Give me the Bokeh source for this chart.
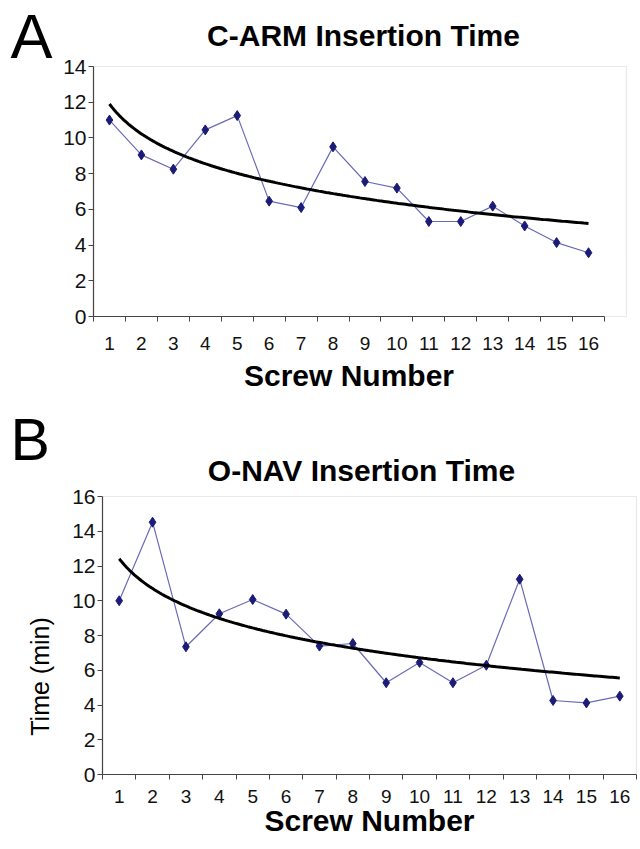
import numpy as np
from bokeh.plotting import figure
from bokeh.models import Range1d, FixedTicker, BoxAnnotation
from bokeh.core.properties import value
from bokeh.layouts import column
from bokeh.embed import file_html
from bokeh.resources import INLINE

# ---- data ----
screws = list(range(1, 17))
x_tick_labels = [str(s) for s in screws]
carm_times = [11.0, 9.05, 8.25, 10.45, 11.25, 6.46, 6.1, 9.5,
              7.56, 7.19, 5.32, 5.32, 6.18, 5.07, 4.14, 3.57]
onav_times = [10.0, 14.52, 7.35, 9.25, 10.07, 9.23, 7.39, 7.54,
              5.28, 6.45, 5.28, 6.29, 11.24, 4.26, 4.12, 4.51]
carm_yticks = [0, 2, 4, 6, 8, 10, 12, 14]
onav_yticks = [0, 2, 4, 6, 8, 10, 12, 14, 16]
panel_letters = ["A", "B"]
chart_titles = ["C-ARM Insertion Time", "O-NAV Insertion Time"]
x_title = "Screw Number"
y_title = "Time (min)"

FONT = "Liberation Sans"
LINE_COLOR = "#6a6ab8"
MARK_COLOR = "#1b1b78"
W = 640


def log_trend(xs, ys):
    lx = np.log(np.asarray(xs, dtype=float))
    b, a = np.polyfit(lx, np.asarray(ys, dtype=float), 1)
    xx = np.linspace(xs[0], xs[-1], 200)
    return xx, a + b * np.log(xx)


def make_panel(times, yticks, letter, title, height, box, cat_end_px,
               letter_pos, letter_size, title_pos, tick_standoff, label_standoff,
               ylabel_pos=None):
    # box = plot-area pixels inside this canvas: left, top, right, bottom
    fl, ft, fr, fb = box
    n = len(screws)
    kx = (cat_end_px - fl) / n
    x0 = 0.5 - fl / kx
    x1 = x0 + W / kx
    ymax = yticks[-1]
    ky = (fb - ft) / ymax
    y1 = ymax + ft / ky
    y0 = -(height - fb) / ky

    def px2x(px):
        return x0 + px / kx

    def px2y(py):
        return y1 - py / ky

    p = figure(width=W, height=height, output_backend="svg",
               toolbar_location=None,
               x_range=Range1d(x0, x1), y_range=Range1d(y0, y1),
               min_border=0)
    p.grid.visible = False
    p.outline_line_color = None

    # plot-area frame (light grey box)
    p.add_layout(BoxAnnotation(left=0.5, right=px2x(fr), bottom=0, top=ymax,
                               fill_color=None, line_color="#b5b5b5",
                               line_width=1.2, level="underlay"))

    xa = p.xaxis[0]
    xa.fixed_location = 0
    xa.ticker = FixedTicker(ticks=screws,
                            minor_ticks=[s - 0.5 for s in screws] + [screws[-1] + 0.5])
    xa.major_label_overrides = {s: lab for s, lab in zip(screws, x_tick_labels)}
    xa.bounds = (0.5, screws[-1] + 0.5)
    xa.major_tick_out = 0
    xa.major_tick_in = 0
    xa.minor_tick_out = 5
    xa.minor_tick_in = 0
    xa.minor_tick_line_color = "#444444"
    xa.axis_line_color = "#444444"
    xa.axis_line_width = 1.2
    xa.major_label_text_font = FONT
    xa.major_label_text_font_size = "19px"
    xa.major_label_text_color = "#111111"
    xa.major_label_standoff = tick_standoff
    xa.axis_label = x_title
    xa.axis_label_text_font = FONT
    xa.axis_label_text_font_style = "bold"
    xa.axis_label_text_font_size = "30px"
    xa.axis_label_text_color = "#000000"
    xa.axis_label_standoff = label_standoff

    ya = p.yaxis[0]
    ya.fixed_location = 0.5
    ya.bounds = (0, ymax)
    ya.ticker = FixedTicker(ticks=yticks)
    ya.minor_tick_line_color = None
    ya.major_tick_out = 5
    ya.major_tick_in = 0
    ya.major_tick_line_color = "#444444"
    ya.axis_line_color = "#444444"
    ya.axis_line_width = 1.2
    ya.major_label_text_font = FONT
    ya.major_label_text_font_size = "21px"
    ya.major_label_text_color = "#111111"
    ya.major_label_standoff = 2

    tx, ty = log_trend(screws, times)
    p.line(screws, times, line_color=LINE_COLOR, line_width=1.2)
    p.scatter(screws, times, marker="diamond", size=10,
              fill_color=MARK_COLOR, line_color=MARK_COLOR)
    p.line(tx, ty, line_color="black", line_width=3)

    # panel letter, chart title and (optional) y title as text in the canvas
    p.text(x=[px2x(letter_pos[0])], y=[px2y(letter_pos[1])], text=[letter],
           text_font=value(FONT), text_font_size=letter_size,
           text_align="left", text_baseline="middle", text_color="black")
    p.text(x=[px2x(title_pos[0])], y=[px2y(title_pos[1])], text=[title],
           text_font=value(FONT), text_font_style="bold", text_font_size="30px",
           text_align="center", text_baseline="middle", text_color="black")
    if ylabel_pos is not None:
        p.text(x=[px2x(ylabel_pos[0])], y=[px2y(ylabel_pos[1])], text=[y_title],
               text_font=value(FONT), text_font_size="25px", angle=np.pi / 2,
               text_align="center", text_baseline="middle", text_color="black")
    return p


# panel A occupies page rows 0..400
p1 = make_panel(carm_times, carm_yticks, panel_letters[0], chart_titles[0],
                height=400, box=(93, 66, 626, 316), cat_end_px=604,
                letter_pos=(10, 35), letter_size="63px", title_pos=(363, 35),
                tick_standoff=15, label_standoff=6)
# panel B occupies page rows 400..848 (canvas y = page y - 400)
p2 = make_panel(onav_times, onav_yticks, panel_letters[1], chart_titles[1],
                height=448, box=(102, 96, 636, 374), cat_end_px=636,
                letter_pos=(10, 39), letter_size="59px", title_pos=(361, 70),
                tick_standoff=10, label_standoff=-2, ylabel_pos=(39, 276))

layout = column(p1, p2, spacing=0)
open("out.html", "w").write(file_html(layout, INLINE))
